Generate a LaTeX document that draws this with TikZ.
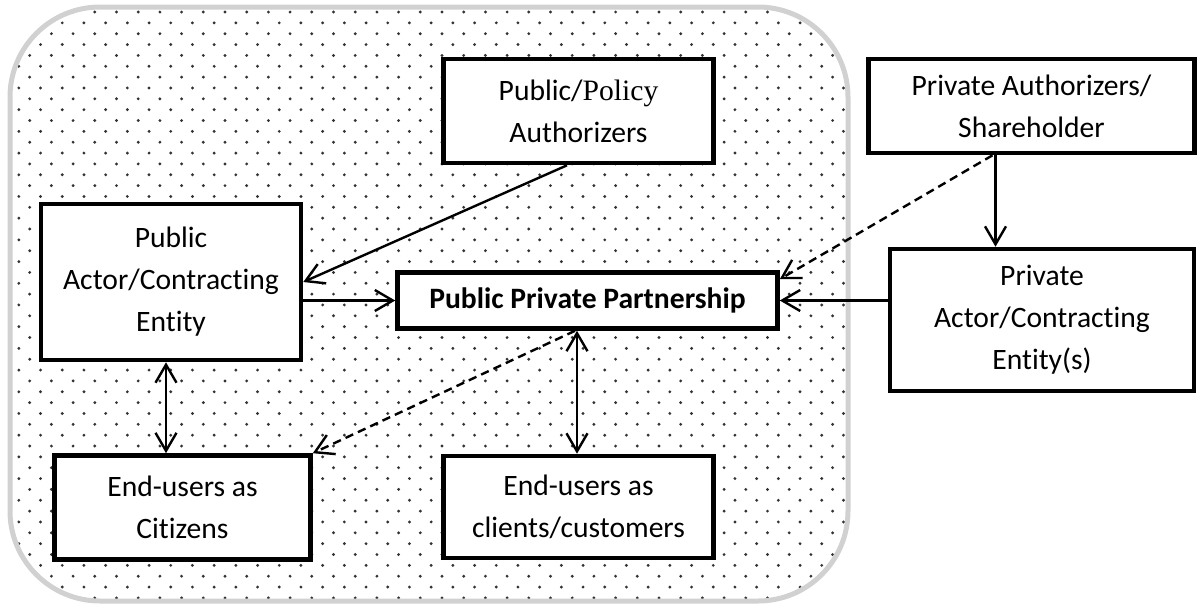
\documentclass[tikz,border=0pt]{standalone}
\usepackage{fontspec}
\setmainfont{Carlito}[Ligatures=NoCommon]
\newfontfamily\polserif{Liberation Serif}
\usetikzlibrary{arrows.meta,calc}
\begin{document}
\begin{tikzpicture}[x=0.5pt,y=-0.5pt,
  >={Straight Barb[length=9pt,width=10.5pt]},
  box/.style={draw, line width=2.3pt, fill=white, align=center, inner sep=0pt,
    font=\fontsize{14.8}{21}\selectfont},
  conn/.style={line width=1.2pt},
  dashconn/.style={line width=1.2pt, dash pattern=on 4.2pt off 2.6pt}]
\useasboundingbox (0,0) rectangle (1200,606);
% dotted background
\begin{scope}
\clip[rounded corners=45pt] (10,7) rectangle (848,601);
\foreach \i in {0,...,55}{
  \pgfmathsetmacro\yy{12+\i*10.85}
  \pgfmathsetmacro\xo{mod(\i,2)*10.85}
  \foreach \j in {0,...,39}{
    \fill[black!80] ({8+\xo+\j*21.7},\yy) circle (0.8pt);
  }
}
\end{scope}
\draw[black!18, line width=2.5pt, rounded corners=45pt] (10,7) rectangle (848,601);
% boxes
\node[box, minimum width=135pt, minimum height=52pt] (pol) at (578.5,111) {Public/{\polserif Policy}\\Authorizers};
\node[box, minimum width=163pt, minimum height=47pt] (pa) at (1031.5,106) {Private Authorizers/\\Shareholder};
\node[box, minimum width=130pt, minimum height=78pt] (pact) at (171,282) {Public\\Actor/Contracting\\Entity};
\node[box, minimum width=190pt, minimum height=28pt, font=\fontsize{14.8}{21}\selectfont\bfseries] (ppp) at (587.5,300.5) {Public Private Partnership};
\node[box, minimum width=152pt, minimum height=71pt] (prac) at (1042,320) {Private\\Actor/Contracting\\Entity(s)};
\node[box, minimum width=128pt, minimum height=52pt] (cit) at (182.5,507.5) {End-users as\\Citizens};
\node[box, minimum width=135pt, minimum height=51pt] (cli) at (578.5,507) {End-users as\\clients/customers};
% connectors
\coordinate (polout) at ($(pol.south)+(-11.5,0)$);
\draw[conn,->] (polout) -- (pact.east);
\draw[conn,->] (pact.east |- ppp.west) -- (ppp.west);
\draw[conn,->] (prac.west |- ppp.east) -- (ppp.east);
\coordinate (pav) at ($(pa.south)+(-36,0)$);
\draw[conn,->] (pav) -- (pav |- prac.north);
\coordinate (pad) at ($(pa.south)+(-39,0)$);
\coordinate (pppne) at ($(ppp.north east)+(0,9)$);
\draw[dashconn,->] (pad) -- (pppne);
\coordinate (pactv) at ($(pact.south)+(-5,0)$);
\draw[conn,<->] (pactv) -- (pactv |- cit.north);
\coordinate (pppv) at ($(ppp.south)+(-10.5,0)$);
\draw[conn,<->] (pppv) -- (pppv |- cli.north);
\coordinate (pppd) at ($(ppp.south)+(-12.5,0)$);
\draw[dashconn,->] (pppd) -- (cit.north east);
\end{tikzpicture}
\end{document}
